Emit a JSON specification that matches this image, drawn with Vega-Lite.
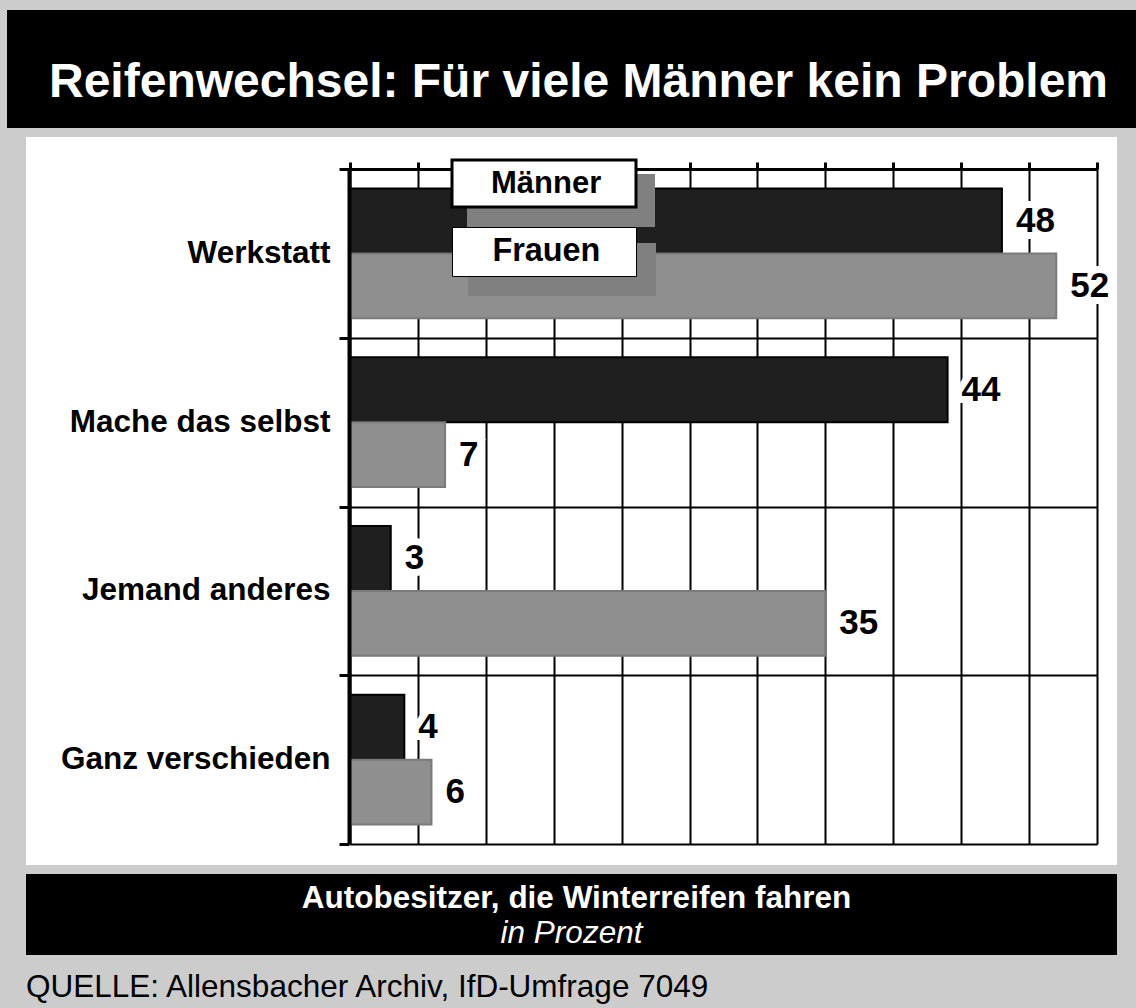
{
  "$schema": "https://vega.github.io/schema/vega-lite/v6.json",
  "background": "#cccccc",
  "padding": {"left": 7, "top": 10, "right": 0, "bottom": 12},
  "spacing": 9,
  "center": true,
  "bounds": "flush",
  "config": {"view": {"stroke": null}, "font": "Liberation Sans"},
  "vconcat": [
    {
      "width": 1129,
      "height": 118,
      "view": {"fill": "black", "stroke": null},
      "data": {"values": [{"title": "Reifenwechsel: Für viele Männer kein Problem"}]},
      "mark": {"type": "text", "font": "Liberation Sans", "fontSize": 48, "fontWeight": "bold", "fill": "white", "baseline": "alphabetic", "align": "center", "dx": 7, "dy": 28},
      "encoding": {"text": {"field": "title", "type": "nominal"}}
    },
    {
      "width": 1091,
      "height": 728,
      "view": {"fill": "white", "stroke": null},
      "data": {"values": [
        {"answer": "Werkstatt", "group": "Männer", "value": 48},
        {"answer": "Werkstatt", "group": "Frauen", "value": 52},
        {"answer": "Mache das selbst", "group": "Männer", "value": 44},
        {"answer": "Mache das selbst", "group": "Frauen", "value": 7},
        {"answer": "Jemand anderes", "group": "Männer", "value": 3},
        {"answer": "Jemand anderes", "group": "Frauen", "value": 35},
        {"answer": "Ganz verschieden", "group": "Männer", "value": 4},
        {"answer": "Ganz verschieden", "group": "Frauen", "value": 6}
      ]},
      "encoding": {
        "y": {
          "field": "answer", "type": "nominal",
          "sort": ["Werkstatt", "Mache das selbst", "Jemand anderes", "Ganz verschieden"],
          "scale": {"range": [32, 707], "paddingInner": 0, "paddingOuter": 0},
          "axis": {
            "title": null, "orient": "left", "offset": -323, "tickBand": "extent", "zindex": 1,
            "domainColor": "black", "domainWidth": 4,
            "ticks": true, "tickColor": "black", "tickWidth": 3, "tickSize": 10,
            "grid": true, "gridColor": "black", "gridWidth": 2, "gridOpacity": 1,
            "labelFont": "Liberation Sans", "labelFontSize": 31.5, "labelFontWeight": "bold", "labelColor": "black",
            "labelPadding": 9, "labelLimit": 500
          }
        },
        "yOffset": {
          "field": "group", "type": "nominal", "sort": ["Männer", "Frauen"],
          "scale": {"paddingInner": 0, "paddingOuter": 0.3}
        },
        "x": {
          "field": "value", "type": "quantitative",
          "scale": {"domain": [0, 55], "range": [324, 1071], "nice": false, "zero": true},
          "axis": {
            "title": null, "orient": "top", "offset": -32, "labels": false,
            "values": [0, 5, 10, 15, 20, 25, 30, 35, 40, 45, 50, 55],
            "domainColor": "black", "domainWidth": 3,
            "tickColor": "black", "tickWidth": 3, "tickSize": 7,
            "grid": true, "gridColor": "black", "gridWidth": 2, "gridOpacity": 1
          }
        }
      },
      "layer": [
        {
          "mark": {"type": "bar"},
          "encoding": {
            "fill": {
              "field": "group", "type": "nominal",
              "scale": {"domain": ["Männer", "Frauen"], "range": ["#1f1f1f", "#8f8f8f"]},
              "legend": {
                "values": ["Männer"], "orient": "none", "legendX": 445, "legendY": 150, "title": null,
                "fillColor": "white", "strokeColor": "black", "padding": 8,
                "symbolSize": 0, "symbolOpacity": 0, "symbolStrokeWidth": 0, "labelOffset": 0, "labelLimit": 0,
                "labelFont": "Liberation Sans", "labelFontSize": 31, "labelFontWeight": "bold", "labelColor": "black",
                "labelExpr": "'\u00a0\u00a0\u00a0' + datum.label + '\u00a0\u00a0\u00a0\u200b'",
                "zindex": 3,
                "encode": {"legend": {"update": {"strokeWidth": {"value": 3}}}}
              }
            },
            "stroke": {
              "field": "group", "type": "nominal",
              "scale": {"domain": ["Frauen", "Männer"], "range": ["#7a7a7a", "#000000"]},
              "legend": {
                "values": ["Frauen"], "orient": "none", "legendX": 445, "legendY": 217, "title": null,
                "fillColor": "white", "strokeColor": "black", "padding": 8,
                "symbolSize": 0, "symbolOpacity": 0, "symbolStrokeWidth": 0, "labelOffset": 0, "labelLimit": 0,
                "labelFont": "Liberation Sans", "labelFontSize": 32.4, "labelFontWeight": "bold", "labelColor": "black",
                "labelExpr": "'\u00a0\u00a0\u00a0' + datum.label + '\u00a0\u00a0\u00a0\u200b'",
                "zindex": 3,
                "encode": {"legend": {"update": {"strokeWidth": {"value": 3}}}}
              }
            },
            "opacity": {
              "field": "group", "type": "nominal",
              "scale": {"range": [1, 1]},
              "legend": {
                "values": ["Männer"], "orient": "none", "legendX": 460, "legendY": 96.5, "title": null,
                "fillColor": null, "strokeColor": null, "padding": 0,
                "symbolType": "M-1,-0.2819H1V0.2819H-1Z", "symbolSize": 35344,
                "symbolFillColor": "#808080", "symbolStrokeColor": "#808080", "symbolStrokeWidth": 0, "symbolOpacity": 1,
                "labelExpr": "''", "labelOffset": 0, "labelFontSize": 1,
                "zindex": 2,
                "encode": {"symbols": {"update": {"fill": {"value": "#808080"}, "opacity": {"value": 1}, "strokeWidth": {"value": 0}}}}
              }
            },
            "strokeWidth": {
              "field": "group", "type": "nominal",
              "scale": {"domain": ["Männer", "Frauen", "k.A."], "range": [2, 2, 2]},
              "legend": {
                "values": ["Frauen"], "orient": "none", "legendX": 460, "legendY": 164.5, "title": null,
                "fillColor": null, "strokeColor": null, "padding": 0,
                "symbolType": "M-1,-0.2819H1V0.2819H-1Z", "symbolSize": 35344,
                "symbolFillColor": "#808080", "symbolStrokeColor": "#808080", "symbolStrokeWidth": 0, "symbolOpacity": 1,
                "labelExpr": "''", "labelOffset": 0, "labelFontSize": 1,
                "zindex": 2,
                "encode": {"symbols": {"update": {"fill": {"value": "#808080"}, "opacity": {"value": 1}, "strokeWidth": {"value": 0}}}}
              }
            }
          }
        },
        {
          "mark": {"type": "text", "font": "Liberation Sans", "fontSize": 35, "fontWeight": "bold", "align": "left", "baseline": "middle", "dx": 14, "fill": "white", "stroke": "white", "strokeWidth": 14, "strokeJoin": "miter"},
          "encoding": {"text": {"field": "value", "type": "quantitative"}}
        },
        {
          "mark": {"type": "text", "font": "Liberation Sans", "fontSize": 35, "fontWeight": "bold", "align": "left", "baseline": "middle", "dx": 14, "fill": "black"},
          "encoding": {"text": {"field": "value", "type": "quantitative"}}
        }
      ]
    },
    {
      "width": 1091,
      "height": 81,
      "view": {"fill": "black", "stroke": null},
      "title": {
        "text": "QUELLE: Allensbacher Archiv, IfD-Umfrage 7049",
        "orient": "bottom", "anchor": "start", "frame": "group", "offset": 17,
        "font": "Liberation Sans", "fontSize": 31.5, "fontWeight": "normal", "color": "black"
      },
      "data": {"values": [
        {"line": "Autobesitzer, die Winterreifen fahren", "kind": "headline"},
        {"line": "in Prozent", "kind": "unit"}
      ]},
      "layer": [
        {
          "transform": [{"filter": "datum.kind == 'headline'"}],
          "mark": {"type": "text", "font": "Liberation Sans", "fontSize": 31.5, "fontWeight": "bold", "fill": "white", "align": "center", "baseline": "alphabetic", "dx": 5, "dy": -7},
          "encoding": {"text": {"field": "line", "type": "nominal"}}
        },
        {
          "transform": [{"filter": "datum.kind == 'unit'"}],
          "mark": {"type": "text", "font": "Liberation Sans", "fontSize": 31.5, "fontStyle": "italic", "fill": "white", "align": "center", "baseline": "alphabetic", "dy": 28},
          "encoding": {"text": {"field": "line", "type": "nominal"}}
        }
      ]
    }
  ]
}
